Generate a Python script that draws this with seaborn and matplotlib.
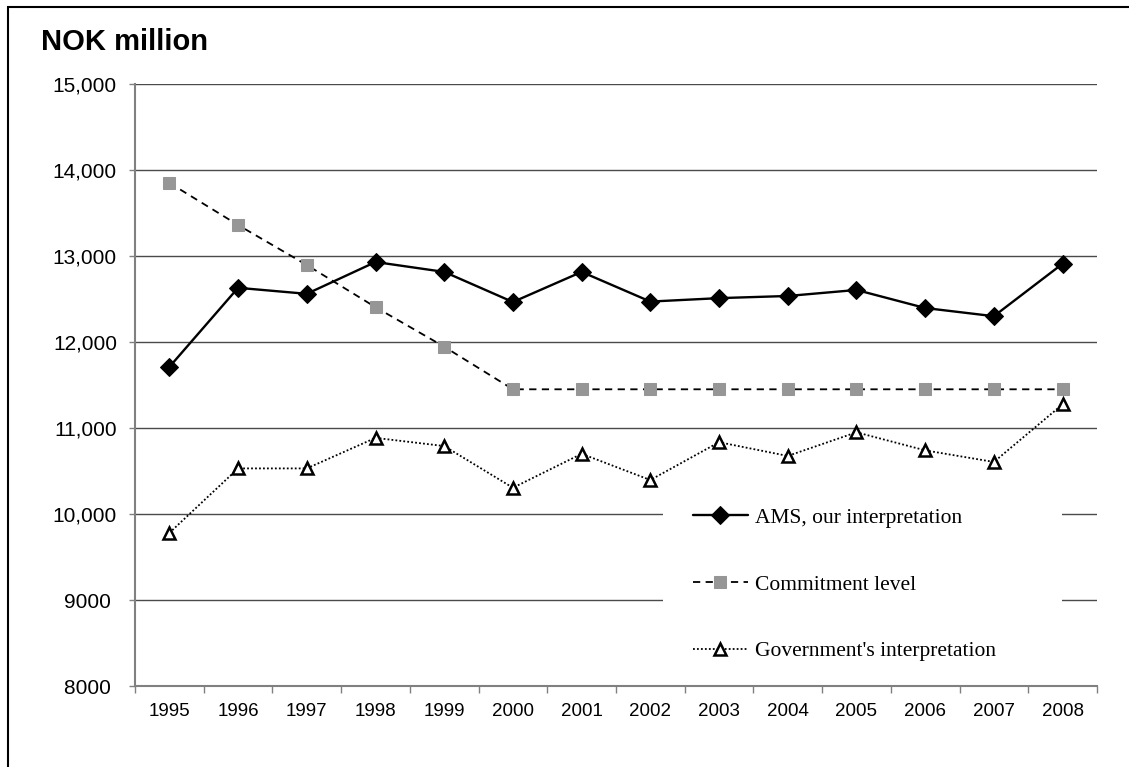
import matplotlib
matplotlib.use('Agg')
import matplotlib.pyplot as plt
from matplotlib.patches import Rectangle
from matplotlib.ticker import FixedLocator
import numpy as np
import pandas as pd
import seaborn as sns

# ------------------------------
# Data
# ------------------------------
years = [1995, 1996, 1997, 1998, 1999, 2000, 2001, 2002, 2003, 2004, 2005, 2006, 2007, 2008]
ams = [11710, 12630, 12560, 12930, 12815, 12465, 12815, 12470, 12510, 12535, 12605, 12395, 12300, 12910]
commitment = [13850, 13360, 12895, 12405, 11945, 11450, 11450, 11450, 11450, 11450, 11450, 11450, 11450, 11450]
government = [9780, 10530, 10530, 10885, 10790, 10305, 10700, 10395, 10835, 10675, 10950, 10740, 10605, 11275]
y_ticks = [8000, 9000, 10000, 11000, 12000, 13000, 14000, 15000]
y_tick_labels = ['8000 ', '9000 ', '10,000', '11,000', '12,000', '13,000', '14,000', '15,000']
series_names = ['AMS, our interpretation', 'Commitment level', "Government's interpretation"]

df = pd.DataFrame({'year': years, 'ams': ams, 'commitment': commitment, 'government': government})

sns.set_theme(style='white')
plt.rcParams['font.family'] = ['Liberation Sans', 'DejaVu Sans']
plt.rcParams['text.color'] = 'black'

fig = plt.figure(figsize=(11.29, 7.67), dpi=100)
ax = fig.add_axes([0.1196, 0.1056, 0.8520, 0.7849])

# white box behind the legend hides the gridlines there
ax.add_patch(Rectangle((0.549, 0.0), 0.415, 0.33, transform=ax.transAxes,
                       facecolor='white', edgecolor='none', zorder=1))

sns.lineplot(data=df, x='year', y='ams', ax=ax, color='black', linestyle='-', linewidth=1.7,
             marker='D', markersize=9, markerfacecolor='black', markeredgecolor='black',
             label=series_names[0], zorder=3)
sns.lineplot(data=df, x='year', y='commitment', ax=ax, color='black', linestyle=(0, (4, 3)), linewidth=1.3,
             marker='s', markersize=8, markerfacecolor='#969696', markeredgecolor='#969696',
             label=series_names[1], zorder=3)
sns.lineplot(data=df, x='year', y='government', ax=ax, color='black', linestyle=(0, (1, 1.2)), linewidth=1.3,
             marker='^', markersize=9, markerfacecolor='white', markeredgecolor='black', markeredgewidth=1.8,
             label=series_names[2], zorder=3)

ax.set_xlim(years[0] - 0.5, years[-1] + 0.5)
ax.set_ylim(y_ticks[0], y_ticks[-1])
ax.set_xlabel('')
ax.set_ylabel('')

# y axis
ax.set_yticks(y_ticks)
ax.set_yticklabels(y_tick_labels, fontsize=15, color='black')
ax.yaxis.grid(True, color='#4a4a4a', linewidth=1.0)
ax.set_axisbelow(True)
ax.tick_params(axis='y', which='major', left=True, length=4, width=1, color='#808080', pad=9)

# x axis: labels in the middle, tick marks on the category boundaries
ax.set_xticks(years)
ax.set_xticklabels([str(y) for y in years], fontsize=13.5, color='black')
ax.xaxis.set_minor_locator(FixedLocator(np.arange(years[0] - 0.5, years[-1] + 1.0, 1.0)))
ax.tick_params(axis='x', which='major', bottom=False, length=0, pad=12)
ax.tick_params(axis='x', which='minor', bottom=True, length=5, width=1, color='#808080')
ax.xaxis.grid(False)

for side in ['top', 'right']:
    ax.spines[side].set_visible(False)
for side in ['left', 'bottom']:
    ax.spines[side].set_color('#808080')
    ax.spines[side].set_linewidth(1.5)

leg = ax.legend(loc='upper left', bbox_to_anchor=(0.6138, 0.338), bbox_transform=fig.transFigure,
                frameon=False, borderpad=0, borderaxespad=0, handlelength=2.55, handletextpad=0.33,
                labelspacing=2.17, prop={'family': 'Liberation Serif', 'size': 15.5})
for t in leg.get_texts():
    t.set_color('black')

fig.text(0.0363, 0.9348, 'NOK million', fontsize=21, fontweight='bold', va='baseline', ha='left',
         color='black')

# outer frame of the chart area
fig.patches.append(Rectangle((8 / 1129, -0.1), 2.0, 1.1 - 7 / 767, transform=fig.transFigure,
                             fill=False, edgecolor='black', linewidth=1.5))

fig.savefig('out.png', dpi=100)
